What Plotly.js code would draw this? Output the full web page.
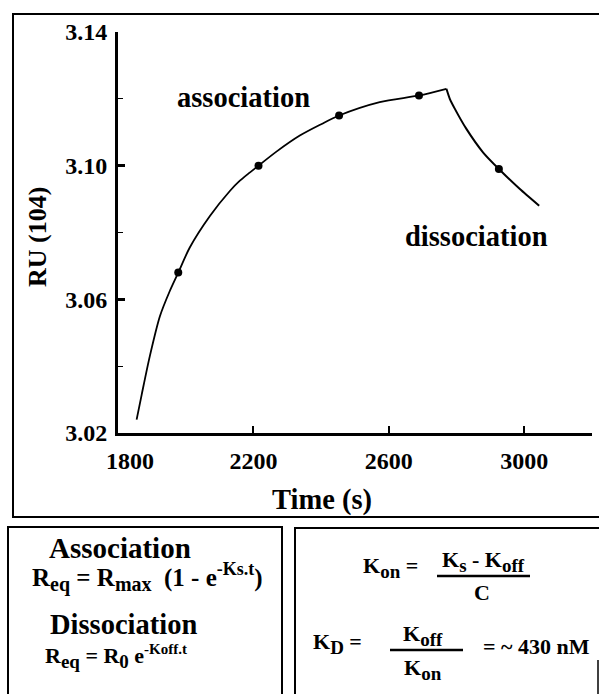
<!DOCTYPE html>
<html>
<head>
<meta charset="utf-8">
<script src="https://cdn.plot.ly/plotly-3.0.1.min.js"></script>
<style>html,body{margin:0;padding:0;background:#fff;}#chart{width:599px;height:694px;}</style>
</head>
<body>
<div id="chart"></div>
<script>
// ---- data ----
var assocTime = [1855, 1870, 1894, 1924, 1953, 1978, 2012, 2072, 2131, 2160, 2190, 2215, 2268, 2337, 2400, 2453, 2573, 2689, 2770];
var assocRU   = [3.024, 3.0315, 3.043, 3.055, 3.0625, 3.068, 3.0755, 3.085, 3.0925, 3.0955, 3.098, 3.100, 3.1042, 3.109, 3.1124, 3.115, 3.119, 3.121, 3.123];
var dissocTime = [2770, 2780, 2795, 2829, 2878, 2925, 2987, 3044];
var dissocRU   = [3.123, 3.120, 3.117, 3.111, 3.104, 3.099, 3.093, 3.088];
var markerTime = [1978, 2215, 2453, 2689, 2925];
var markerRU   = [3.068, 3.100, 3.115, 3.121, 3.099];
var xTickVals = [1800, 2200, 2600, 3000, 3200];
var xTickText = ['\u00a0\u00a0\u00a0\u00a01800', '2200', '2600', '3000', ''];
var yTickVals = [3.02, 3.06, 3.10, 3.14];
var yTickText = ['3.02', '3.06', '3.10', '3.14'];

// ---- layout helpers (pixel -> paper) ----
var W = 599, H = 694, L = 118, R = 7, T = 32, B = 261;
var PW = W - L - R, PH = H - T - B;
function px(x) { return (x - L) / PW; }
function py(y) { return (H - B - y) / PH; }
var FAM = 'Liberation Serif, Times New Roman, serif';
function sb(t, s) { return '<sub><span style="font-size:' + (s || 19) + 'px">' + t + '</span></sub>'; }
function sp(t, s) { return '<sup><span style="font-size:' + (s || 15) + 'px">' + t + '</span></sup>'; }
function ann(text, x, y, size, extra) {
  var a = {text: '<b>' + text + '</b>', x: px(x), y: py(y), xref: 'paper', yref: 'paper', showarrow: false,
    xanchor: 'center', yanchor: 'middle', font: {family: FAM, size: size, color: '#000'}};
  if (extra) for (var k in extra) a[k] = extra[k];
  return a;
}
function rect(x0, y0, x1, y1, w) {
  return {type: 'rect', xref: 'paper', yref: 'paper', x0: px(x0), x1: px(x1), y0: py(y0), y1: py(y1),
    line: {color: '#000', width: w}, fillcolor: 'rgba(0,0,0,0)'};
}
function hline(x0, x1, y, w) {
  return {type: 'line', xref: 'paper', yref: 'paper', x0: px(x0), x1: px(x1), y0: py(y), y1: py(y),
    line: {color: '#000', width: w}};
}
function vline(x, y0, y1, w) {
  return {type: 'line', xref: 'paper', yref: 'paper', x0: px(x), x1: px(x), y0: py(y0), y1: py(y1),
    line: {color: '#000', width: w}};
}

var traces = [
  {x: assocTime, y: assocRU, mode: 'lines', line: {color: '#000', width: 1.8, shape: 'spline', smoothing: 0.8}, hoverinfo: 'skip'},
  {x: dissocTime, y: dissocRU, mode: 'lines', line: {color: '#000', width: 2, shape: 'spline', smoothing: 0.6}, hoverinfo: 'skip'},
  {x: markerTime, y: markerRU, mode: 'markers', marker: {color: '#000', size: 8}, hoverinfo: 'skip'}
];

var layout = {
  width: W, height: H,
  margin: {l: L, r: R, t: T, b: B, pad: 0},
  paper_bgcolor: '#fff', plot_bgcolor: '#fff',
  showlegend: false,
  font: {family: FAM, color: '#000'},
  xaxis: {
    range: [1800, 3200], showgrid: false, zeroline: false,
    showline: true, linecolor: '#000', linewidth: 3,
    tickmode: 'array', tickvals: xTickVals, ticktext: xTickText,
    ticks: 'inside', ticklen: 7, tickwidth: 2, tickcolor: '#000',
    tickfont: {family: FAM, size: 24, color: '#000', weight: 'bold'},
    ticklabelstandoff: 4
  },
  yaxis: {
    range: [3.02, 3.14], showgrid: false, zeroline: false,
    showline: true, linecolor: '#000', linewidth: 3,
    tickmode: 'array', tickvals: yTickVals, ticktext: yTickText,
    ticks: 'inside', ticklen: 7, tickwidth: 2.5, tickcolor: '#000',
    tickfont: {family: FAM, size: 24, color: '#000', weight: 'bold'},
    ticklabelstandoff: 3,
    minor: {tickvals: [3.04, 3.08, 3.12], ticks: 'inside', ticklen: 5, tickwidth: 1, tickcolor: '#000'}
  },
  annotations: [
    ann('association', 243, 97, 28.5),
    ann('dissociation', 476, 236, 28.5),
    ann('RU (104)', 37, 237, 26, {textangle: -90}),
    ann('Time (s)', 322, 500, 28.5),
    ann('Association', 120, 548, 29),
    ann('R' + sb('eq', 20) + ' = R' + sb('max', 20) + '  (1 - e' + sp('-Ks.t', 18) + ')', 147, 577, 25),
    ann('Dissociation', 123, 624, 28.5),
    ann('R' + sb('eq') + ' = R' + sb('0') + ' e' + sp('-Koff.t'), 116, 656, 22),
    ann('K' + sb('on') + ' =', 390, 567, 22),
    ann('K' + sb('s') + ' - K' + sb('off'), 483, 561, 22),
    ann('C', 482, 592, 22),
    ann('K' + sb('D') + ' =', 337, 643, 22),
    ann('K' + sb('off'), 423, 635, 22),
    ann('K' + sb('on'), 423, 669, 22),
    ann('= ~ 430 nM', 536, 646, 22)
  ],
  shapes: [
    rect(13, 14, 640, 517, 2),
    rect(8, 527, 282, 720, 2),
    rect(295, 528, 640, 720, 2),
    hline(437, 530, 576, 2.5),
    hline(390, 463, 650, 2.5),
    vline(598, 660, 700, 1.5)
  ]
};

Plotly.newPlot('chart', traces, layout, {displayModeBar: false, staticPlot: true});
</script>
</body>
</html>
